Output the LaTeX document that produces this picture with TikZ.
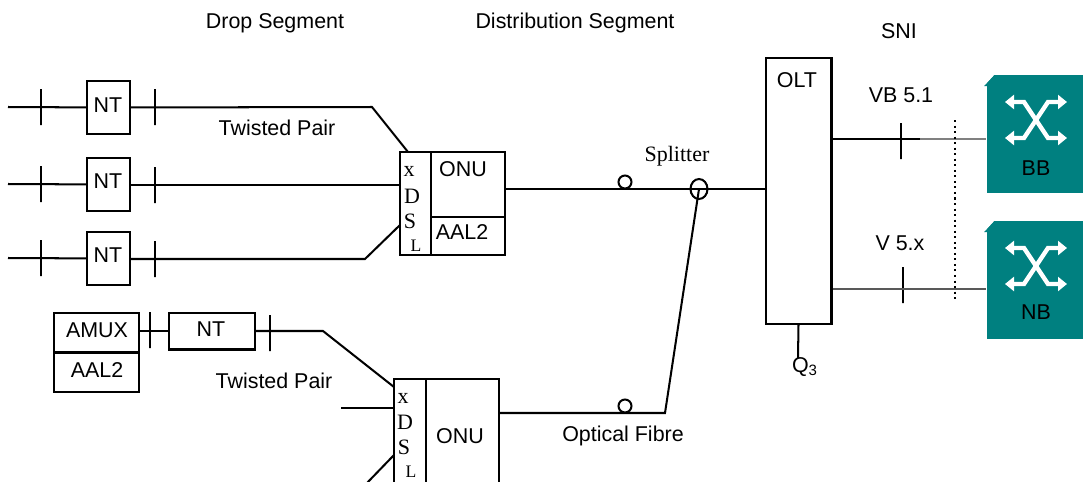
\documentclass[tikz,border=0pt]{standalone}
\usepackage{fontspec}
\setmainfont{Liberation Sans}
\newfontfamily\timesfont{Liberation Serif}
\usetikzlibrary{arrows.meta,shapes.geometric}
\definecolor{switchteal}{HTML}{008080}
\tikzset{
	lbl/.style={inner sep=0pt,font=\fontsize{12.2}{14}\selectfont},
	serif/.style={inner sep=0pt,font=\fontsize{12.5}{14}\selectfont\timesfont},
	box/.style={draw,inner sep=0pt},
	tickmark/.style={draw,inner sep=0pt,minimum width=0pt,minimum height=.72cm},
	splitpoint/.style={draw,circle,inner sep=0pt,minimum size=.26cm},
	switchbody/.style={fill=switchteal,inner sep=0pt,minimum width=1.92cm,minimum height=2.36cm},
	swicon/.pic={
		\draw[white,line width=2.5pt,{Triangle[length=.18cm,width=.28cm]}-{Triangle[length=.18cm,width=.28cm]}] (-31,-18) -- (-12,-18) -- (12,18) -- (31,18);
		\draw[white,line width=2.5pt,{Triangle[length=.18cm,width=.28cm]}-{Triangle[length=.18cm,width=.28cm]}] (-31,18) -- (-12,18) -- (12,-18) -- (31,-18);
	}
}
\begin{document}
\begin{tikzpicture}[x=.02cm,y=-.02cm,line width=1.15pt]
	\useasboundingbox (0,0) rectangle (1083,481);
	\clip (0,0) rectangle (1083,481);
	% headings
	\node[lbl] (drop) at (275,23) {Drop Segment};
	\node[lbl] (dist) at (575,23) {Distribution Segment};
	\node[lbl] (sni) at (899,31) {SNI};
	% upper left branch
	\node[box,minimum width=.86cm,minimum height=1.06cm] (nta) at (108.5,107.5) {};
	\node[box,minimum width=.86cm,minimum height=1.06cm] (ntb) at (108.5,184.5) {};
	\node[box,minimum width=.86cm,minimum height=1.06cm] (ntc) at (108.5,258.5) {};
	\node[lbl] (nta text) at (108,105) {NT};
	\node[lbl] (ntb text) at (108,181) {NT};
	\node[lbl] (ntc text) at (108,255) {NT};
	\coordinate (ina) at (8,107);
	\coordinate (inb) at (8,184);
	\coordinate (inc) at (8,258);
	\node[tickmark] (ta) at (41,107) {};
	\node[tickmark] (tb) at (41,184) {};
	\node[tickmark] (tc) at (41,258) {};
	\node[tickmark] (ua) at (155,107) {};
	\node[tickmark] (ub) at (155,185) {};
	\node[tickmark] (uc) at (155,259) {};
	\draw (ina) -- (nta);
	\draw (inb) -- (ntb);
	\draw (inc) -- (ntc);
	% upper ONU
	\node[box,minimum width=.62cm,minimum height=2.06cm] (xa) at (415.5,203.5) {};
	\node[box,minimum width=1.48cm,minimum height=1.3cm] (onua) at (468,184.5) {};
	\node[box,minimum width=1.48cm,minimum height=.76cm] (aala) at (468,236) {};
	\node[serif] (xa1) at (409,171) {x};
	\node[serif] (xa2) at (412,196) {D};
	\node[serif] (xa3) at (410,221) {S};
	\node[serif,font=\fontsize{10}{12}\selectfont\timesfont] (xa4) at (416,246) {L};
	\node[lbl] (onua text) at (463,169) {ONU};
	\node[lbl] (aala text) at (462,232) {AAL2};
	\coordinate (benda) at (372,107);
	\coordinate (enda) at (408,152);
	\coordinate (endb) at (400,185);
	\coordinate (bendc) at (365,259);
	\coordinate (endc) at (400,225);
	\draw (nta) -- (benda) -- (enda);
	\draw (ntb.east |- endb) -- (endb);
	\draw (ntc.east |- bendc) -- (bendc) -- (endc);
	\node[lbl] (twista) at (277,128) {Twisted Pair};
	% lower left branch
	\node[box,minimum width=1.7cm,minimum height=.78cm] (amux) at (96.5,332.5) {};
	\node[box,minimum width=1.7cm,minimum height=.78cm] (aalb) at (96.5,372.5) {};
	\node[lbl] (amux text) at (97,330) {AMUX};
	\node[lbl] (aalb text) at (97,370) {AAL2};
	\node[box,minimum width=1.72cm,minimum height=.74cm] (ntd) at (212,331) {};
	\node[lbl] (ntd text) at (211,329) {NT};
	\node[tickmark] (td) at (150,330) {};
	\node[tickmark] (ud) at (270,333) {};
	\draw (amux.east |- ntd) -- (ntd);
	\coordinate (bendd) at (323,331);
	\coordinate (endd) at (394,387);
	\draw (ntd) -- (bendd) -- (endd);
	\node[lbl] (twistb) at (274,381) {Twisted Pair};
	% lower ONU
	\node[box,minimum width=.64cm,minimum height=2.4cm] (xb) at (410,439) {};
	\node[box,minimum width=1.46cm,minimum height=2.4cm] (onub) at (462.5,439) {};
	\node[serif] (xb1) at (403,398) {x};
	\node[serif] (xb2) at (405,422) {D};
	\node[serif] (xb3) at (404,447) {S};
	\node[serif,font=\fontsize{10}{12}\selectfont\timesfont] (xb4) at (411,472) {L};
	\node[lbl] (onub text) at (460,436) {ONU};
	\coordinate (ine) at (341,408);
	\coordinate (endf) at (394,455);
	\coordinate (inf) at (366,484);
	\draw (ine) -- (ine -| xb.west);
	\draw (endf) -- (inf);
	% fibre and OLT
	\node[box,minimum width=1.32cm,minimum height=5.32cm] (olt) at (798.5,191) {};
	\node[lbl] (olt text) at (797,80) {OLT};
	\node[draw,ellipse,inner sep=0pt,minimum width=.34cm,minimum height=.4cm] (split) at (699,189) {};
	\node[splitpoint] (pa) at (625,182) {};
	\node[splitpoint] (pb) at (625,406) {};
	\node[serif] (split text) at (677,156) {Splitter};
	\node[lbl] (fibre) at (623,436) {Optical Fibre};
	\coordinate (bendg) at (665,413);
	\draw (onua.east |- split) -- (olt.west |- split);
	\draw (onub.east |- bendg) -- (bendg) -- (split.center);
	\node[lbl] (q3) at (805,367) {Q\textsubscript{3}};
	\draw (olt.south) -- (798,358);
	% switches
	\node[switchbody] (bb) at (1035,134) {};
	\node[switchbody] (nb) at (1035,280) {};
	\fill[white] (986,74) -- (995,74) -- (986,84) -- cycle;
	\fill[white] (986,220) -- (995,220) -- (986,230) -- cycle;
	\fill[switchteal] (984,86) -- (995,75) -- (995,86) -- cycle;
	\fill[switchteal] (984,232) -- (995,221) -- (995,232) -- cycle;
	\pic at (1036,120) {swicon};
	\pic at (1036,266) {swicon};
	\node[lbl] (bb text) at (1036,168) {BB};
	\node[lbl] (nb text) at (1036,312) {NB};
	% V interfaces
	\node[lbl] (vb) at (901,95) {VB 5.1};
	\node[lbl] (vx) at (900,243) {V 5.x};
	\node[tickmark] (tv) at (901,141) {};
	\node[tickmark] (tx) at (903,285) {};
	\coordinate (sepv) at (920,139);
	\draw (olt.east |- sepv) -- (sepv);
	\draw[gray,line width=.9pt] (sepv) -- (bb.west |- sepv);
	\coordinate (sepx) at (903,289);
	\draw[black!65,line width=.9pt] (olt.east |- sepx) -- (nb.west |- sepx);
	\coordinate (dota) at (955,120);
	\coordinate (dotb) at (955,302);
	\draw[dotted] (dota) -- (dotb);
\end{tikzpicture}
\end{document}
